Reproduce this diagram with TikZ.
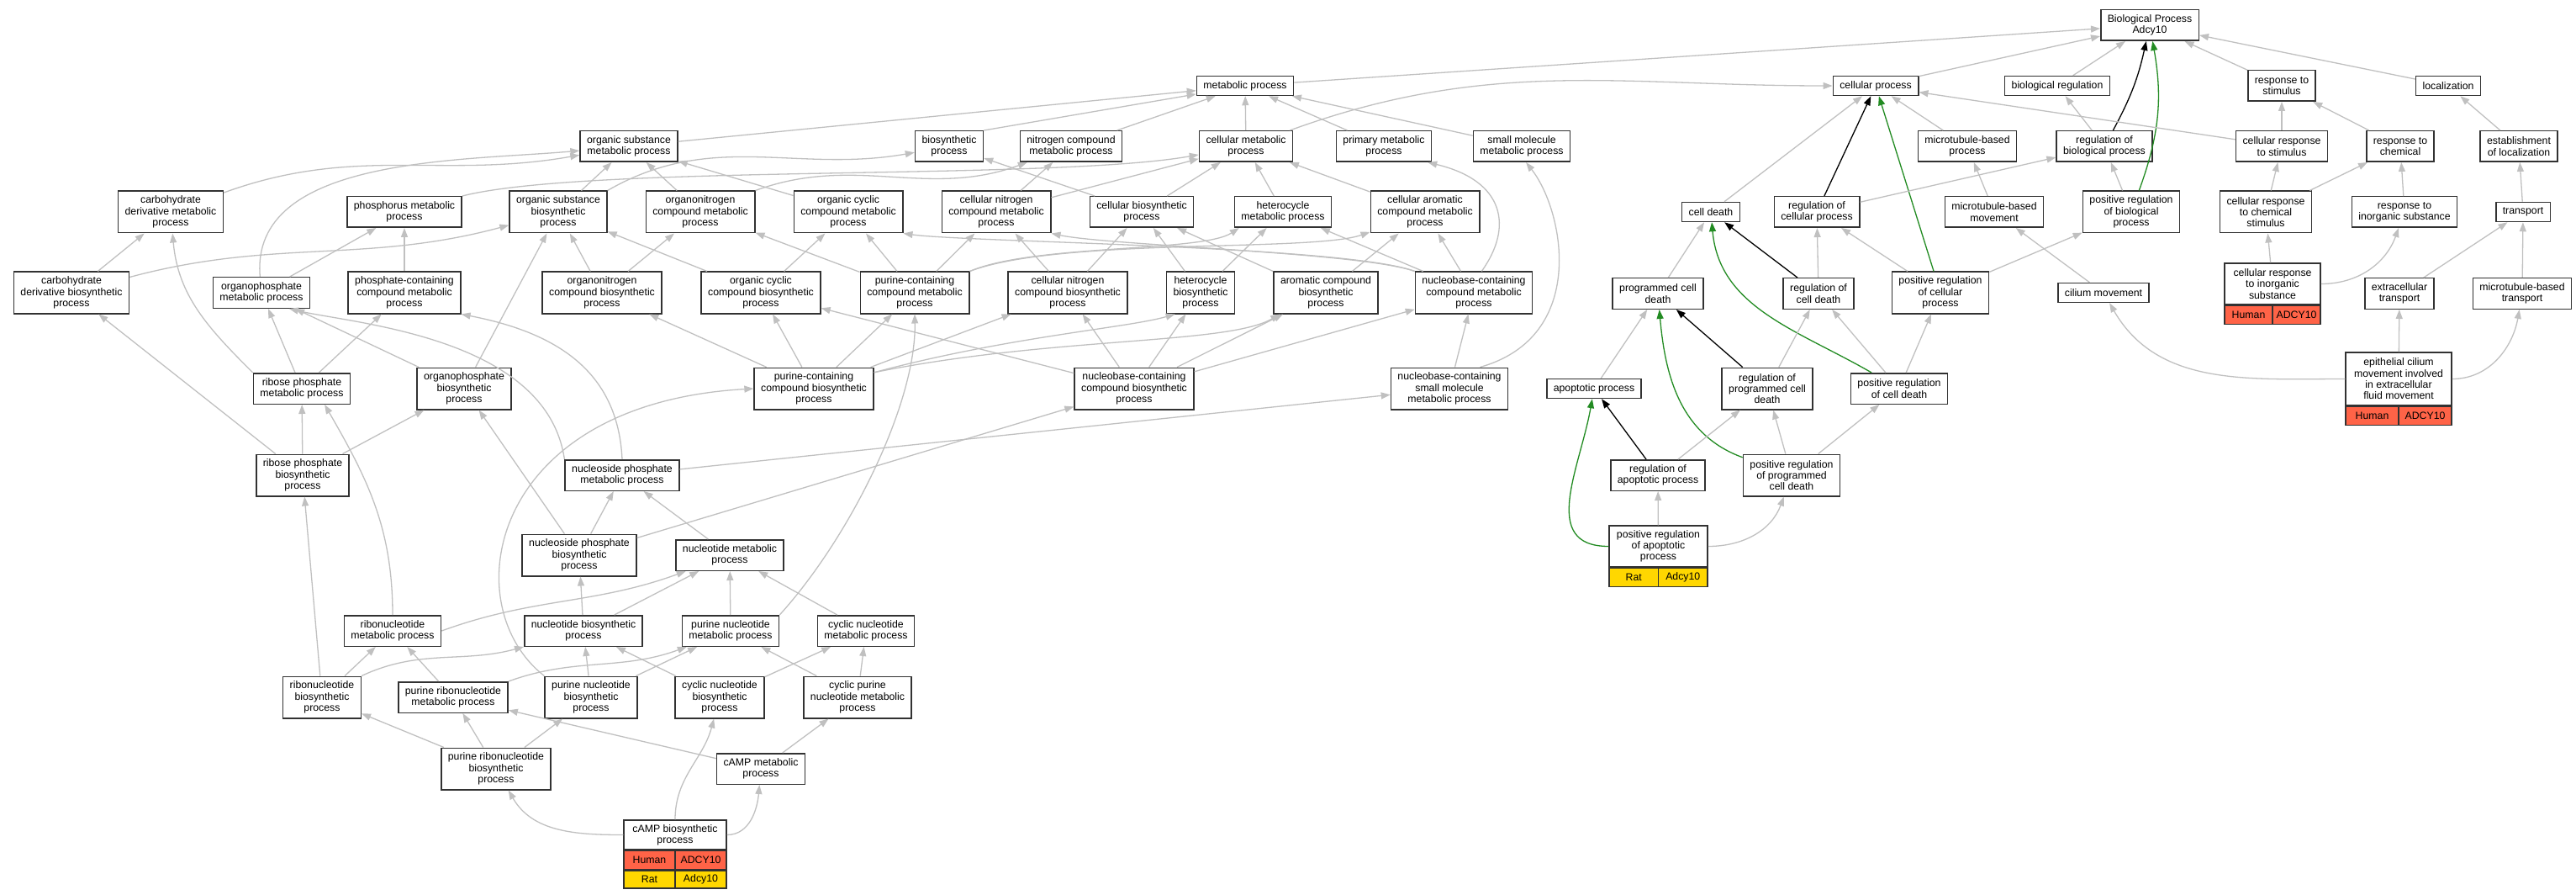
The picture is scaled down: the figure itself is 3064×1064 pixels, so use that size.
\documentclass[tikz,border=0pt]{standalone}
\usepackage{fontspec}
\setmainfont{Liberation Sans}
\usetikzlibrary{arrows.meta}
\definecolor{boxline}{RGB}{50,50,50}
\definecolor{isagray}{RGB}{192,192,192}
\definecolor{posgreen}{RGB}{34,139,34}
\definecolor{humanred}{RGB}{255,99,71}
\definecolor{ratgold}{RGB}{255,215,0}
\newcommand{\gofont}{\fontsize{12.3pt}{13.3pt}\selectfont}

\begin{document}
\begin{tikzpicture}[x=1pt,y=1pt,
    term/.style={draw=boxline,line width=1.5pt,fill=white,align=center,inner xsep=8pt,inner ysep=0pt,minimum height=23pt,font=\gofont},
    two/.style={term,minimum height=36.5pt},
    three/.style={term,minimum height=49.5pt},
    cell/.style={draw=boxline,line width=1.5pt,inner sep=0pt,minimum height=22pt,font=\gofont},
    isa/.style={draw=isagray,line width=1.3pt,-{Triangle[length=11pt,width=8pt]}},
    reg/.style={isa,draw=black},
    posreg/.style={isa,draw=posgreen}]

  \useasboundingbox (0,0) rectangle (3064,-1064);

  \begin{scope}[every node/.style={term}]
    % top rows
    \node[two] (bp) at (2557,-30) {Biological Process\\Adcy10};
    \node (metproc) at (1481,-102) {metabolic process};
    \node (cellproc) at (2231,-102) {cellular process};
    \node (bioreg) at (2447,-102) {biological regulation};
    \node[two] (respstim) at (2714,-102) {response to\\stimulus};
    \node (localiz) at (2912,-102) {localization};

    \node[two] (orgsubmet) at (748,-174) {organic substance\\metabolic process};
    \node[two] (biosynth) at (1129,-174) {biosynthetic\\process};
    \node[two] (nitrocompmet) at (1274,-174) {nitrogen compound\\metabolic process};
    \node[two] (cellmet) at (1482,-174) {cellular metabolic\\process};
    \node[two] (primmet) at (1646,-174) {primary metabolic\\process};
    \node[two] (smallmolmet) at (1810,-174) {small molecule\\metabolic process};
    \node[two] (mtbproc) at (2340,-174) {microtubule-based\\process};
    \node[two] (regbioproc) at (2503,-174) {regulation of\\biological process};
    \node[two] (cellrespstim) at (2714,-174) {cellular response\\to stimulus};
    \node[two] (respchem) at (2855,-174) {response to\\chemical};
    \node[two] (estloc) at (2996,-174) {establishment\\of localization};

    \node[three] (carbderivmet) at (203,-252) {carbohydrate\\derivative metabolic\\process};
    \node[two] (phosphorusmet) at (481,-252) {phosphorus metabolic\\process};
    \node[three] (orgsubbio) at (664,-252) {organic substance\\biosynthetic\\process};
    \node[three] (orgnitromet) at (833,-252) {organonitrogen\\compound metabolic\\process};
    \node[three] (orgcycmet) at (1009,-252) {organic cyclic\\compound metabolic\\process};
    \node[three] (cellnitromet) at (1185,-252) {cellular nitrogen\\compound metabolic\\process};
    \node[two] (cellbio) at (1358,-252) {cellular biosynthetic\\process};
    \node[two] (hetermet) at (1526,-252) {heterocycle\\metabolic process};
    \node[three] (cellaromet) at (1695,-252) {cellular aromatic\\compound metabolic\\process};
    \node (celldeath) at (2035,-252) {cell death};
    \node[two] (regcellproc) at (2161,-252) {regulation of\\cellular process};
    \node[two] (mtbmove) at (2372,-252) {microtubule-based\\movement};
    \node[three] (posregbio) at (2535,-252) {positive regulation\\of biological\\process};
    \node[three] (cellrespchem) at (2695,-252) {cellular response\\to chemical\\stimulus};
    \node[two] (respinorg) at (2860,-252) {response to\\inorganic substance};
    \node (transport) at (3001,-252) {transport};

    \node[three] (carbderivbio) at (85,-348) {carbohydrate\\derivative biosynthetic\\process};
    \node[two] (orgphosmet) at (311,-348) {organophosphate\\metabolic process};
    \node[three] (phoscontmet) at (481,-348) {phosphate-containing\\compound metabolic\\process};
    \node[three] (orgnitrobio) at (716,-348) {organonitrogen\\compound biosynthetic\\process};
    \node[three] (orgcycbio) at (905,-348) {organic cyclic\\compound biosynthetic\\process};
    \node[three] (purcontmet) at (1088,-348) {purine-containing\\compound metabolic\\process};
    \node[three] (cellnitrobio) at (1270,-348) {cellular nitrogen\\compound biosynthetic\\process};
    \node[three] (heterbio) at (1428,-348) {heterocycle\\biosynthetic\\process};
    \node[three] (arombio) at (1577,-348) {aromatic compound\\biosynthetic\\process};
    \node[three] (nucbasemet) at (1753,-348) {nucleobase-containing\\compound metabolic\\process};
    \node[two] (progcelldeath) at (1972,-349) {programmed cell\\death};
    \node[two] (regcelldeath) at (2163,-349) {regulation of\\cell death};
    \node[three] (posregcell) at (2308,-348) {positive regulation\\of cellular\\process};
    \node (ciliummove) at (2502,-348) {cilium movement};
    \node[three,minimum width=114pt,minimum height=49pt] (cellrespinorg) at (2703,-337.5) {cellular response\\to inorganic\\substance};
    \node[two] (extratrans) at (2854,-349) {extracellular\\transport};
    \node[two] (mtbtrans) at (3000,-349) {microtubule-based\\transport};

    \node[two] (ribphosmet) at (359,-462) {ribose phosphate\\metabolic process};
    \node[three] (orgphosbio) at (552,-462) {organophosphate\\biosynthetic\\process};
    \node[three] (purcontbio) at (968,-462) {purine-containing\\compound biosynthetic\\process};
    \node[three] (nucbasebio) at (1349,-462) {nucleobase-containing\\compound biosynthetic\\process};
    \node[three] (nucbasesmall) at (1724,-462) {nucleobase-containing\\small molecule\\metabolic process};
    \node (apoptotic) at (1896,-462) {apoptotic process};
    \node[three] (regprogcd) at (2102,-462) {regulation of\\programmed cell\\death};
    \node[two] (posregcelldeath) at (2259,-462) {positive regulation\\of cell death};
    \node[term,minimum width=126pt,minimum height=63pt] (epicilium) at (2853,-450.5) {epithelial cilium\\movement involved\\in extracellular\\fluid movement};

    \node[three] (ribphosbio) at (360,-565) {ribose phosphate\\biosynthetic\\process};
    \node[two] (nucphosmet) at (740,-565) {nucleoside phosphate\\metabolic process};
    \node[two] (regapop) at (1972,-565) {regulation of\\apoptotic process};
    \node[three] (posregpcd) at (2131,-565) {positive regulation\\of programmed\\cell death};

    \node[three] (nucphosbio) at (689,-660) {nucleoside phosphate\\biosynthetic\\process};
    \node[two] (nucleotidemet) at (868,-660) {nucleotide metabolic\\process};
    \node[three,minimum width=117pt,minimum height=49pt] (posregapop) at (1972.5,-649.5) {positive regulation\\of apoptotic\\process};

    \node[two] (ribonucmet) at (467,-750) {ribonucleotide\\metabolic process};
    \node[two] (nucleotidebio) at (694,-750) {nucleotide biosynthetic\\process};
    \node[two] (purnucmet) at (869,-750) {purine nucleotide\\metabolic process};
    \node[two] (cycnucmet) at (1030,-750) {cyclic nucleotide\\metabolic process};

    \node[three] (ribonucbio) at (383,-829) {ribonucleotide\\biosynthetic\\process};
    \node[two] (purribomet) at (539,-829) {purine ribonucleotide\\metabolic process};
    \node[three] (purnucbio) at (703,-829) {purine nucleotide\\biosynthetic\\process};
    \node[three] (cycnucbio) at (856,-829) {cyclic nucleotide\\biosynthetic\\process};
    \node[three] (cycpurnucmet) at (1020,-829) {cyclic purine\\nucleotide metabolic\\process};

    \node[three] (purribobio) at (590,-914) {purine ribonucleotide\\biosynthetic\\process};
    \node[two] (campmet) at (905,-914) {cAMP metabolic\\process};
    \node[two,minimum width=122pt,minimum height=35pt] (campbio) at (803,-992.5) {cAMP biosynthetic\\process};
  \end{scope}

  % species / gene rows
  \begin{scope}[every node/.style={cell}]
    \node[fill=humanred,minimum width=57pt,anchor=north west] (cellrespinorg-sp) at (cellrespinorg.south west) {Human};
    \node[fill=humanred,minimum width=57pt,anchor=north east] (cellrespinorg-gn) at (cellrespinorg.south east) {ADCY10};
    \node[fill=humanred,minimum width=63pt,anchor=north west] (epicilium-sp) at (epicilium.south west) {Human};
    \node[fill=humanred,minimum width=63pt,anchor=north east] (epicilium-gn) at (epicilium.south east) {ADCY10};
    \node[fill=ratgold,minimum width=58.5pt,anchor=north west] (posregapop-sp) at (posregapop.south west) {Rat};
    \node[fill=ratgold,minimum width=58.5pt,anchor=north east] (posregapop-gn) at (posregapop.south east) {Adcy10};
    \node[fill=humanred,minimum width=61pt,anchor=north west] (campbio-sp1) at (campbio.south west) {Human};
    \node[fill=humanred,minimum width=61pt,anchor=north east] (campbio-gn1) at (campbio.south east) {ADCY10};
    \node[fill=ratgold,minimum width=61pt,minimum height=21pt,anchor=north west] (campbio-sp2) at (campbio-sp1.south west) {Rat};
    \node[fill=ratgold,minimum width=61pt,minimum height=21pt,anchor=north east] (campbio-gn2) at (campbio-gn1.south east) {Adcy10};
  \end{scope}

  \begin{scope}[every edge/.style={isa}]
    % to the root
    \path (metproc) edge (bp);
    \path (cellproc) edge (bp);
    \path (bioreg) edge (bp);
    \path (respstim) edge (bp);
    \path (localiz) edge (bp);
    \path (regbioproc) edge[reg,bend right=8] (bp);
    \path (posregbio) edge[posreg,out=70,in=-80] (bp);

    % cellular process, regulation, response
    \path (celldeath) edge (cellproc);
    \path (regcellproc) edge[reg] (cellproc);
    \path (posregcell) edge[posreg] (cellproc);
    \path (mtbproc) edge (cellproc);
    \path (cellrespstim) edge (cellproc);
    \path (cellmet) edge[out=20,in=180] (cellproc);
    \path (regcellproc) edge (regbioproc);
    \path (regbioproc) edge (bioreg);
    \path (posregbio) edge (regbioproc);
    \path (mtbmove) edge (mtbproc);
    \path (cellrespstim) edge (respstim);
    \path (respchem) edge (respstim);
    \path (estloc) edge (localiz);
    \path (cellrespchem) edge (cellrespstim);
    \path (cellrespchem) edge (respchem);
    \path (respinorg) edge (respchem);
    \path (transport) edge (estloc);
    \path (posregcell) edge (regcellproc);
    \path (posregcell) edge (posregbio);
    \path (ciliummove) edge (mtbmove);
    \path (cellrespinorg) edge (cellrespchem);
    \path (cellrespinorg) edge[out=0,in=-110] (respinorg);
    \path (extratrans) edge (transport);
    \path (mtbtrans) edge (transport);
    \path (epicilium) edge[out=180,in=-60] (ciliummove);
    \path (epicilium) edge (extratrans);
    \path (epicilium) edge[out=0,in=-100] (mtbtrans);

    % cell death
    \path (progcelldeath) edge (celldeath);
    \path (regcelldeath) edge[reg] (celldeath);
    \path (posregcelldeath) edge[posreg,out=150,in=-85] (celldeath);
    \path (regcelldeath) edge (regcellproc);
    \path (posregcelldeath) edge (regcelldeath);
    \path (posregcelldeath) edge (posregcell);
    \path (apoptotic) edge (progcelldeath);
    \path (regprogcd) edge[reg] (progcelldeath);
    \path (posregpcd) edge[posreg,out=160,in=-85] (progcelldeath);
    \path (regprogcd) edge (regcelldeath);
    \path (posregpcd) edge (regprogcd);
    \path (posregpcd) edge (posregcelldeath);
    \path (regapop) edge[reg] (apoptotic);
    \path (regapop) edge (regprogcd);
    \path (posregapop) edge[posreg,out=180,in=-100,looseness=1.2] (apoptotic);
    \path (posregapop) edge (regapop);
    \path (posregapop) edge[out=0,in=-110] (posregpcd);

    % metabolic process
    \path (orgsubmet) edge (metproc);
    \path (biosynth.north east) edge (metproc);
    \path (nitrocompmet) edge (metproc);
    \path (cellmet) edge (metproc);
    \path (primmet) edge (metproc);
    \path (smallmolmet) edge (metproc);
    \path (carbderivmet) edge[out=20,in=190] (orgsubmet);
    \path (orgphosmet) edge[out=95,in=185,looseness=0.9] (orgsubmet);
    \path (orgsubbio) edge (orgsubmet);
    \path (orgnitromet) edge (orgsubmet);
    \path (orgcycmet) edge (orgsubmet);
    \path (orgsubbio.north east) edge[out=30,in=190] (biosynth);
    \draw[isa] (phosphorusmet.north east) .. controls (700,-195) and (1250,-215) .. (cellmet.190);
    \path (cellnitromet) edge (cellmet);
    \path (cellnitromet) edge (nitrocompmet);
    \path (orgnitromet.north east) edge[out=20,in=200] (nitrocompmet);
    \path (cellbio) edge (biosynth);
    \path (cellbio) edge (cellmet);
    \path (hetermet) edge (cellmet);
    \path (cellaromet) edge (cellmet);
    \draw[isa] (nucbasemet.70) .. controls (1800,-270) and (1790,-215) .. (primmet.-20);
    \draw[isa] (nucbasesmall.35) .. controls (1890,-400) and (1860,-250) .. (smallmolmet.-75);
    \path (nucbasesmall) edge (nucbasemet);

    \path (carbderivbio) edge (carbderivmet);
    \path (carbderivbio) edge[out=15,in=195] (orgsubbio);
    \path (orgphosmet) edge (phosphorusmet);
    \path (phoscontmet) edge (phosphorusmet);
    \path (orgnitrobio) edge (orgsubbio);
    \path (orgnitrobio) edge (orgnitromet);
    \path (orgcycbio) edge (orgsubbio);
    \path (orgcycbio) edge (orgcycmet);
    \path (purcontmet) edge (orgnitromet);
    \path (purcontmet) edge (orgcycmet);
    \path (purcontmet) edge (cellnitromet);
    \draw[isa] (purcontmet.north east) .. controls (1230,-290) and (1430,-300) .. (hetermet.-160);
    \draw[isa] (purcontmet.north east) .. controls (1260,-282) and (1560,-300) .. (cellaromet.-160);
    \path (cellnitrobio) edge (cellbio);
    \path (cellnitrobio) edge (cellnitromet);
    \path (heterbio) edge (cellbio);
    \path (heterbio) edge (hetermet);
    \path (arombio.north west) edge (cellbio);
    \path (arombio) edge (cellaromet);
    \draw[isa] (nucbasemet.north west) .. controls (1600,-292) and (1150,-288) .. (orgcycmet.south east);
    \draw[isa] (nucbasemet.north west) .. controls (1620,-300) and (1320,-292) .. (cellnitromet.south east);
    \path (nucbasemet) edge (hetermet);
    \path (nucbasemet) edge (cellaromet);

    \path (ribphosmet) edge (orgphosmet);
    \path (ribphosmet) edge (phoscontmet);
    \path (ribphosmet.north west) edge[out=135,in=-85] (carbderivmet);
    \path (orgphosbio) edge (orgphosmet);
    \path (orgphosbio) edge (orgsubbio);
    \draw[isa] (nucphosmet.north west) .. controls (650,-400) and (420,-385) .. (orgphosmet.-30);
    \draw[isa] (nucphosmet.north) .. controls (735,-440) and (660,-395) .. (phoscontmet.south east);
    \path (purcontbio) edge (orgnitrobio);
    \path (purcontbio) edge (orgcycbio);
    \path (purcontbio) edge (purcontmet);
    \path (purcontbio) edge (cellnitrobio);
    \draw[isa] (purcontbio.15) .. controls (1200,-400) and (1340,-390) .. (heterbio.-140);
    \draw[isa] (purcontbio.15) .. controls (1250,-400) and (1460,-410) .. (arombio.-155);
    \path (nucbasebio) edge (orgcycbio);
    \path (nucbasebio) edge (cellnitrobio);
    \path (nucbasebio) edge (heterbio);
    \path (nucbasebio) edge (arombio);
    \path (nucbasebio) edge (nucbasemet);
    \path (nucphosmet) edge (nucbasesmall);
    \draw[isa] (purnucbio.north west) .. controls (540,-720) and (580,-480) .. (purcontbio.west);

    % nucleotides
    \path (ribphosbio) edge (ribphosmet);
    \path (ribphosbio) edge (orgphosbio);
    \path (ribphosbio) edge (carbderivbio);
    \path (nucphosbio) edge (orgphosbio);
    \path (nucphosbio) edge (nucphosmet);
    \path (nucphosbio) edge (nucbasebio);
    \path (nucleotidemet) edge (nucphosmet);
    \path (ribonucmet.north) edge[out=90,in=-60] (ribphosmet.-35);
    \path (ribonucmet.east) edge[out=20,in=200] (nucleotidemet);
    \path (nucleotidebio) edge (nucphosbio);
    \path (nucleotidebio) edge (nucleotidemet);
    \path (purnucmet) edge (nucleotidemet);
    \draw[isa] (purnucmet.north east) .. controls (1010,-640) and (1090,-480) .. (purcontmet.south);
    \path (cycnucmet) edge (nucleotidemet);

    \path (ribonucbio) edge (ribphosbio);
    \path (ribonucbio) edge (ribonucmet);
    \path (ribonucbio.north east) edge[out=25,in=195] (nucleotidebio);
    \path (purribomet) edge (ribonucmet);
    \path (purribomet.north east) edge[out=20,in=200] (purnucmet);
    \path (purnucbio) edge (nucleotidebio);
    \path (purnucbio) edge (purnucmet);
    \path (cycnucbio) edge (nucleotidebio);
    \path (cycnucbio) edge (cycnucmet);
    \path (cycpurnucmet) edge (purnucmet);
    \path (cycpurnucmet) edge (cycnucmet);

    \path (purribobio) edge (ribonucbio);
    \path (purribobio) edge (purribomet);
    \path (purribobio) edge (purnucbio);
    \path (campmet) edge (purribomet);
    \path (campmet) edge (cycpurnucmet);
    \path (campbio) edge[out=180,in=-60] (purribobio);
    \path (campbio) edge[out=90,in=-105] (cycnucbio);
    \path (campbio) edge[out=0,in=-95] (campmet);
  \end{scope}

\end{tikzpicture}
\end{document}
